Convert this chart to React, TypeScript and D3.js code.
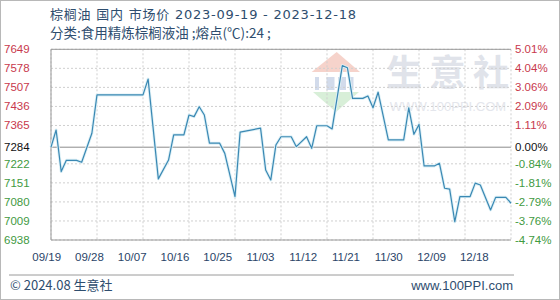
import React from "react";
import * as d3 from "d3";

const dates = [
  "2023-09-19","2023-09-20","2023-09-21","2023-09-22","2023-09-24","2023-09-25","2023-09-27","2023-09-28",
  "2023-10-07","2023-10-08","2023-10-10","2023-10-12","2023-10-13","2023-10-15","2023-10-16","2023-10-17",
  "2023-10-18","2023-10-19","2023-10-20","2023-10-22","2023-10-23","2023-10-25","2023-10-26","2023-10-30",
  "2023-10-31","2023-11-01","2023-11-02","2023-11-03","2023-11-05","2023-11-06","2023-11-08","2023-11-09",
  "2023-11-10","2023-11-12","2023-11-13","2023-11-15","2023-11-16","2023-11-17","2023-11-19","2023-11-20",
  "2023-11-21","2023-11-22","2023-11-24","2023-11-27","2023-11-28","2023-11-29","2023-11-30","2023-12-01",
  "2023-12-03","2023-12-04","2023-12-05","2023-12-06","2023-12-07","2023-12-08","2023-12-10","2023-12-11",
  "2023-12-12","2023-12-14","2023-12-15","2023-12-17","2023-12-18",
];
const prices = [
  7284, 7348, 7193, 7235, 7235, 7228, 7336, 7479,
  7479, 7538, 7166, 7236, 7330, 7330, 7404, 7398,
  7435, 7404, 7299, 7299, 7261, 7100, 7340, 7355,
  7199, 7162, 7292, 7323, 7323, 7286, 7323, 7280,
  7364, 7364, 7352, 7588, 7580, 7466, 7466, 7475,
  7431, 7489, 7311, 7311, 7431, 7332, 7369, 7214,
  7214, 7224, 7131, 7128, 7006, 7100, 7100, 7150,
  7143, 7050, 7097, 7097, 7075,
];
const leftTicks = [7649, 7578, 7507, 7436, 7365, 7284, 7222, 7151, 7080, 7009, 6938];
const rightTicks = ["5.01%", "4.04%", "3.06%", "2.09%", "1.11%", "0.00%", "-0.84%", "-1.81%", "-2.79%", "-3.76%", "-4.74%"];
const xTickLabels = ["09/19", "09/28", "10/07", "10/16", "10/25", "11/03", "11/12", "11/21", "11/30", "12/09", "12/18"];
const basePrice = 7284;
const startDate = "2023-09-19";
const endDate = "2023-12-18";

const title = "棕榈油 国内 市场价 2023-09-19 - 2023-12-18";
const subtitle = "分类:食用精炼棕榈液油 ;熔点(℃):24 ;";
const watermarkChars = ["生", "意", "社"];

export default function App() {
  const W = 560, H = 300;
  const L = 51, R = 511, T = 49.3, B = 240;
  const parse = d3.timeParse("%Y-%m-%d");
  const data = dates.map((d, i) => ({ d: parse(d) as Date, v: prices[i] }));
  const x = d3.scaleTime().domain([parse(startDate) as Date, parse(endDate) as Date]).range([L, R]);
  const y = d3.scaleLinear().domain([d3.min(leftTicks) as number, d3.max(leftTicks) as number]).range([B, T]);
  const line = d3.line<{ d: Date; v: number }>().x((p) => x(p.d)).y((p) => y(p.v));
  const vGrid = d3.range(11).map((k) => d3.timeDay.offset(parse(startDate) as Date, 9 * k));
  const xl = d3.scalePoint<string>().domain(xTickLabels).range([L - 4.3, R - 36.7]);
  const wm = d3.scalePoint<string>().domain(watermarkChars).range([404, 491]);
  const col = (v: number) => (v > basePrice ? "#c8384c" : v < basePrice ? "#3f9a3f" : "#111");
  const font = "'Liberation Sans', Arial, sans-serif";
  const cjk = "'Noto Sans CJK SC', 'Noto Sans', sans-serif";
  const mixed = "'DejaVu Sans', 'Noto Sans CJK SC', sans-serif";
  const textCol = "#2e4d6e";

  return (
    <svg width={W} height={H} style={{ position: "absolute", left: 0, top: 0, background: "#fff" }}>
      <rect x={0.5} y={0.5} width={W - 1} height={H - 1} fill="#fff" stroke="#b8b8b8" />
      {/* watermark */}
      <g>
        <path d="M336.7,52 L311.7,72 L360,72 Z" fill="#f6d3cb" />
        {[0, 1, 2, 3].map((i) => (
          <rect key={i} x={315 + i * 11.5} y={77} width={i === 0 || i === 3 ? 4 : 8} height={13} fill="#d2dbeb" />
        ))}
        <path d="M313,92 L359,92 L336,112 Z" fill="#d8efd8" />
        {watermarkChars.map((c) => (
          <text key={c} x={wm(c)} y={86} textAnchor="middle" fontFamily={cjk} fontSize={36} fill="#e0e3ea" fontWeight={700}>{c}</text>
        ))}
        <text x={448} y={111} textAnchor="middle" fontFamily={font} fontSize={13} fill="#e4e6ec">WWW.100PPI.COM</text>
      </g>
      {/* grid */}
      {leftTicks.map((t, i) => (
        <line key={"h" + i} x1={L} x2={R} y1={y(t)} y2={y(t)} stroke={t === basePrice ? "#8c8c8c" : "#cfcfcf"} strokeDasharray={t === basePrice ? undefined : "2,2"} />
      ))}
      {vGrid.map((d, i) => (
        <line key={"v" + i} x1={x(d)} x2={x(d)} y1={T} y2={B} stroke="#cfcfcf" strokeDasharray="2,2" />
      ))}
      <line x1={L} x2={R} y1={T} y2={T} stroke="#999" />
      <line x1={L} x2={R} y1={B} y2={B} stroke="#999" />
      <line x1={L} x2={L} y1={T} y2={B} stroke="#999" />
      {/* line */}
      <path d={line(data) || ""} fill="none" stroke="#ddf0f6" strokeWidth={3} strokeLinejoin="round" />
      <path d={line(data) || ""} fill="none" stroke="#3a88b3" strokeWidth={1.2} strokeLinejoin="round" />
      {/* y labels */}
      {leftTicks.map((t, i) => (
        <text key={"l" + i} x={4} y={y(t) + 4} fontFamily={font} fontSize={11.5} fill={col(t)}>{t}</text>
      ))}
      {rightTicks.map((t, i) => (
        <text key={"r" + i} x={515} y={y(leftTicks[i]) + 4} fontFamily={font} fontSize={11.5} fill={col(leftTicks[i])}>{t}</text>
      ))}
      {/* x labels */}
      {xTickLabels.map((t) => (
        <text key={t} x={xl(t)} y={261} textAnchor="middle" fontFamily={font} fontSize={11.5} fill="#2a4468">{t}</text>
      ))}
      {/* titles */}
      <text x={50} y={19} fontFamily={mixed} fontSize={13} fill={textCol} textLength={306} lengthAdjust="spacing">{title}</text>
      <text x={50} y={38} fontFamily={cjk} fontSize={13.5} fill={textCol}>{subtitle}</text>
      {/* footer */}
      <line x1={9} x2={514} y1={275} y2={275} stroke="#9a9a9a" />
      <text x={10} y={290} fontFamily={cjk} fontSize={13} fill={textCol}>© 2024.08 生意社</text>
      <text x={513} y={290} textAnchor="end" fontFamily={font} fontSize={13} fill={textCol}>www.100PPI.com</text>
    </svg>
  );
}
